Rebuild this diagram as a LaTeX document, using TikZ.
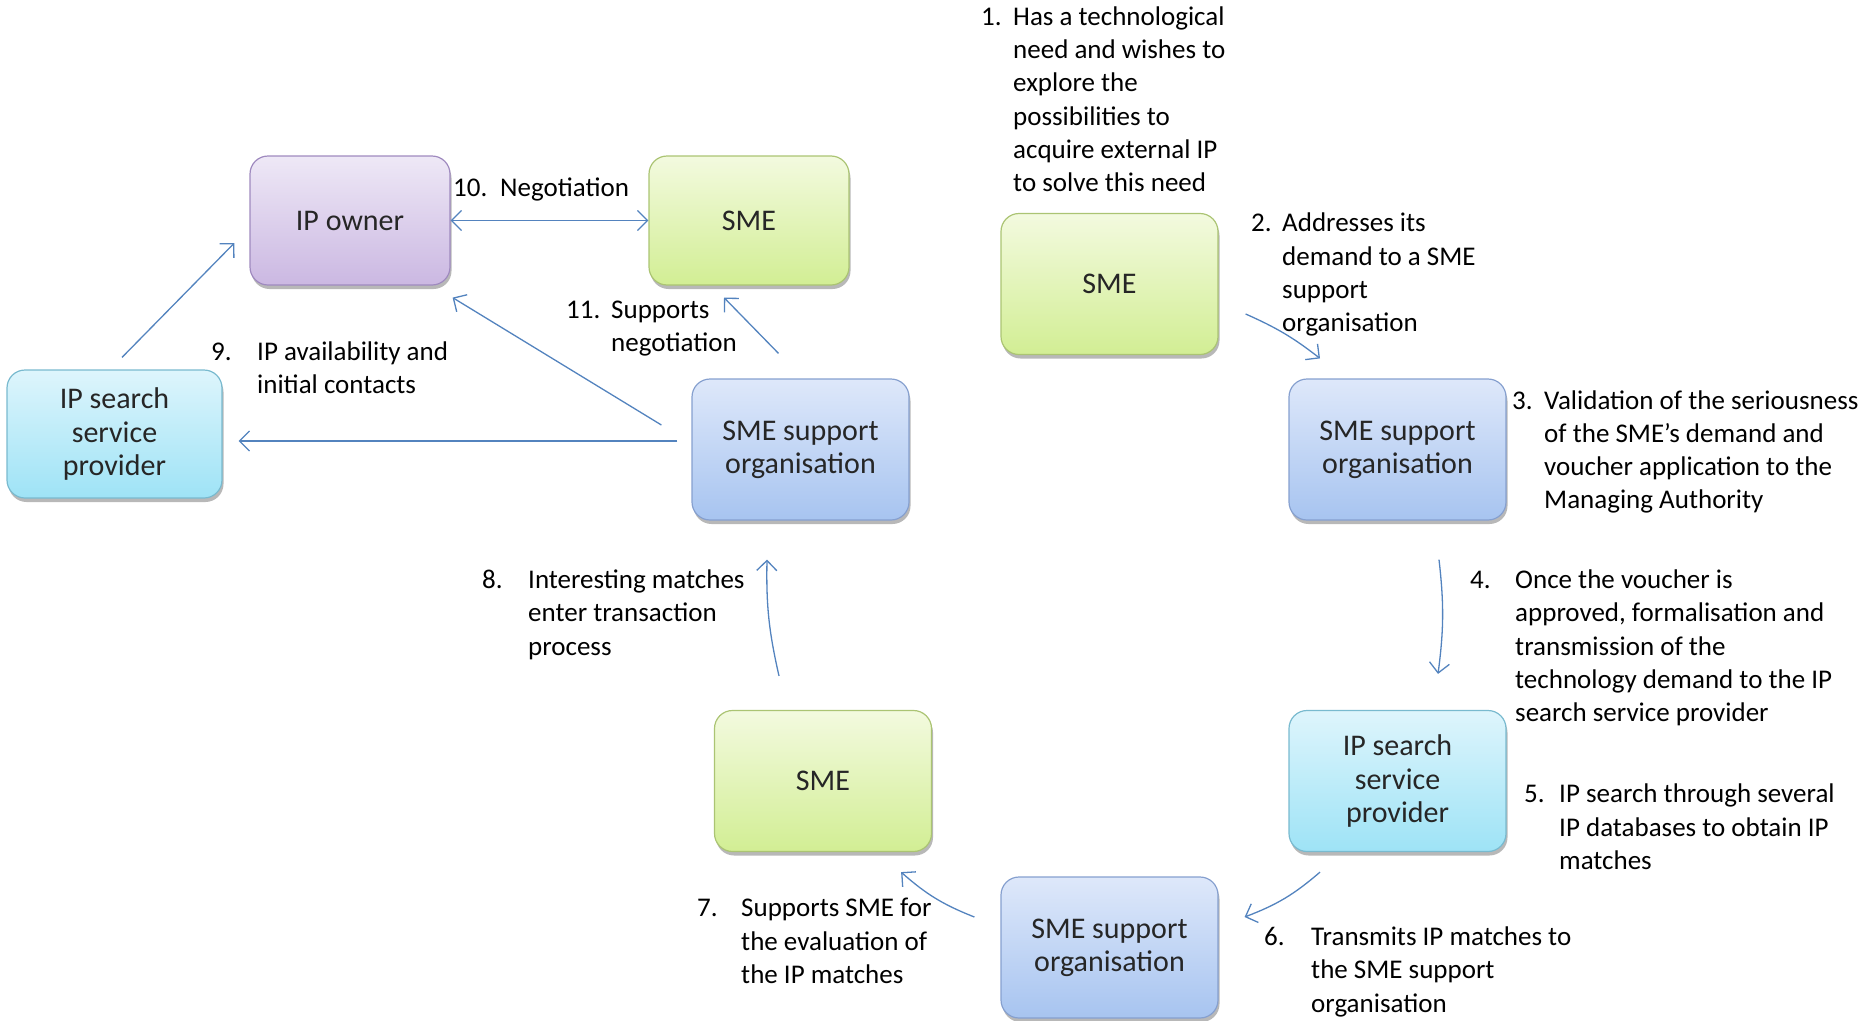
\documentclass[tikz,border=0pt]{standalone}
\usepackage{fontspec}
\setmainfont{Carlito}
\usetikzlibrary{calc,shadows,arrows.meta}

% box palettes: top / bottom shading and border
\definecolor{purtop}{HTML}{EEE8F6}
\definecolor{purbot}{HTML}{CBB8E2}
\definecolor{purdraw}{HTML}{9F8ABF}
\definecolor{grntop}{HTML}{F3FADF}
\definecolor{grnbot}{HTML}{D2EE94}
\definecolor{grndraw}{HTML}{ABC473}
\definecolor{blutop}{HTML}{DEE8FA}
\definecolor{blubot}{HTML}{A7C4F0}
\definecolor{bludraw}{HTML}{86A0CF}
\definecolor{cyntop}{HTML}{DEF5FC}
\definecolor{cynbot}{HTML}{9EE3F6}
\definecolor{cyndraw}{HTML}{79BACF}
\definecolor{boxtext}{HTML}{262626}
\definecolor{arrowcol}{HTML}{5383BE}

\newcommand\boxfont{\fontsize{30}{33.3}\selectfont}
\newcommand\lblfont{\fontsize{27}{33.3}\selectfont}

\tikzset{
  box/.style={rounded corners=18pt, minimum width=217pt, minimum height=141pt,
    draw=#1draw, line width=1.2pt, top color=#1top, bottom color=#1bot,
    drop shadow={shadow xshift=1.5pt, shadow yshift=-4pt, opacity=0.28, fill=black},
    font=\boxfont, text=boxtext, align=center, inner sep=0pt},
  arr/.style={draw=arrowcol, line width=1.3pt, -{Straight Barb[length=10pt,width=20pt]}},
  lblnum/.style={anchor=north west, inner sep=0pt, font=\lblfont, text=black},
  lbltext/.style={anchor=north west, inner sep=0pt, font=\lblfont, text=black, align=left},
}

% numbered step caption: number, x of number, x of text, y of top, text
\newcommand\stepcaption[5]{%
  \node[lblnum] (n#1) at (#2,#4) {\strut#1.};
  \node[lbltext] (t#1) at (#3,#4) {\strut#5};
}

\begin{document}
\begin{tikzpicture}[x=1pt,y=1pt]
\useasboundingbox (0,0) rectangle (1865,-1020);

% actors
\node[box=pur, minimum width=200pt, minimum height=129pt] (ipo)  at (350,-220.5) {IP owner};
\node[box=grn, minimum width=200pt, minimum height=129pt] (smeA) at (749,-220.5) {SME};
\node[box=grn] (sme1) at (1109.5,-284) {SME};
\node[box=blu] (sup3) at (1397.5,-449.5) {SME support\\organisation};
\node[box=cyn] (ips5) at (1397.5,-781) {IP search\\service\\provider};
\node[box=blu] (sup6) at (1109.5,-947.5) {SME support\\organisation};
\node[box=grn] (sme7) at (823,-781) {SME};
\node[box=blu] (supL) at (800.5,-449.5) {SME support\\organisation};
\node[box=cyn, minimum width=215pt, minimum height=128pt] (ipsL) at (114.5,-434) {IP search\\service\\provider};

% process flow
\draw[arr] ($(sme1.east)+(27,-30)$) to[bend left=7] ($(sup3.north)+(-77.5,20)$);
\draw[arr] ($(sup3.south)+(41.5,-39)$) to[bend left=7] ($(ips5.north)+(40.5,36)$);
\draw[arr] ($(ips5.south)+(-77.5,-20)$) to[bend left=10] ($(sup6.east)+(26,30.5)$);
\draw[arr] ($(sup6.west)+(-26,30.5)$) to[bend left=10] ($(sme7.south east)+(-31,-20)$);
\draw[arr] ($(sme7.north)+(-44,34)$) to[bend left=7] ($(supL.south)+(-33.5,-39)$);
\draw[arr] ($(supL.west)+(-14,8.5)$) -- ($(ipsL.east)+(16,-7)$);
\draw[arr] ($(supL.west)+(-30,24.5)$) -- ($(ipo.south east)+(2,-12)$);
\draw[arr] ($(ipsL.north)+(7.5,12)$) -- ($(ipo.west)+(-15,-22.5)$);
\draw[arr] ($(supL.north)+(-22,25)$) -- ($(smeA.south)+(-25,-12)$);
\draw[arr, {Straight Barb[length=10pt,width=20pt]}-{Straight Barb[length=10pt,width=20pt]}] (ipo.east) -- (smeA.west);

% step captions
\stepcaption{1}{981}{1013}{-1.7}{Has a technological\\need and wishes to\\explore the\\possibilities to\\acquire external IP\\to solve this need}
\stepcaption{2}{1251}{1282}{-208.3}{Addresses its\\demand to a SME\\support\\organisation}
\stepcaption{3}{1512}{1544}{-385.5}{Validation of the seriousness\\of the SME’s demand and\\voucher application to the\\Managing Authority}
\stepcaption{4}{1470}{1515}{-565.1}{Once the voucher is\\approved, formalisation and\\transmission of the\\technology demand  to the IP\\search service provider}
\stepcaption{5}{1524}{1559}{-779.2}{IP search through several\\IP databases to obtain IP\\matches}
\stepcaption{6}{1264}{1311}{-921.9}{Transmits IP matches to\\the SME support\\organisation}
\stepcaption{7}{697}{741}{-893.4}{Supports SME for\\the evaluation of\\the IP matches}
\stepcaption{8}{482}{528}{-565.1}{Interesting matches\\enter transaction\\process}
\stepcaption{9}{211}{257}{-336.7}{IP availability and\\initial contacts}
\stepcaption{10}{453}{500}{-172.6}{Negotiation}
\stepcaption{11}{566}{611}{-295.1}{Supports\\negotiation}
\end{tikzpicture}
\end{document}
